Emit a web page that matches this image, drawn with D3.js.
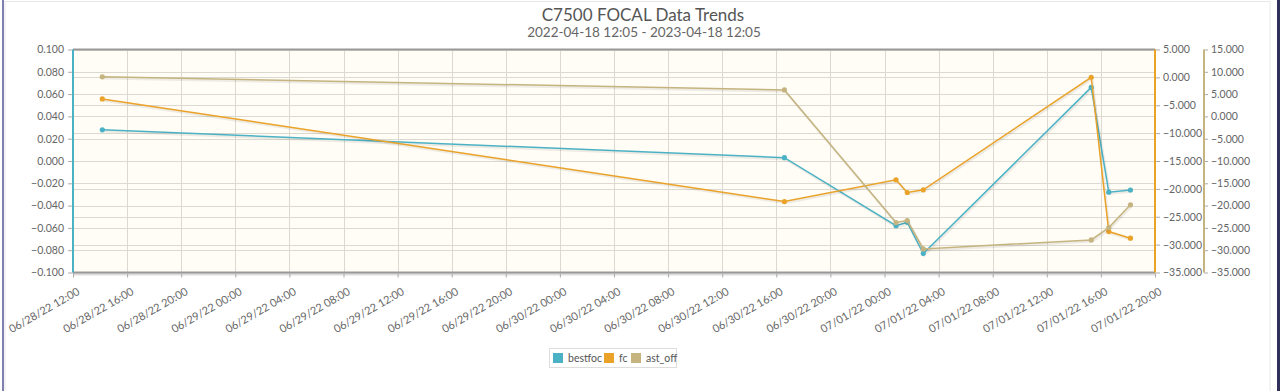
<!DOCTYPE html>
<html>
<head>
<meta charset="utf-8">
<script src="https://cdn.jsdelivr.net/npm/d3@7"></script>
<style>
  body { margin: 0; background: #fff; }
  #graph { width: 1280px; height: 391px; }
</style>
</head>
<body>
<div id="graph"></div>
<script>
// values
var times = ["2022-06-28 14:10", "2022-06-30 16:36", "2022-07-01 00:51", "2022-07-01 01:41",
             "2022-07-01 02:52", "2022-07-01 15:17", "2022-07-01 16:35", "2022-07-01 18:11"];
var bestfoc = [0.028, 0.003, -0.058, -0.055, -0.083, 0.066, -0.028, -0.026];
var fc = [-3.86, -22.27, -18.37, -20.65, -20.17, 0.02, -27.66, -28.85];
var astOff = [8.87, 5.94, -23.8, -23.36, -29.72, -27.7, -24.93, -19.83];
var seriesNames = ["bestfoc", "fc", "ast_off"];
var seriesColors = ["#4bb2c5", "#eaa228", "#c5b47f"];
var leftTicks = [-0.1, -0.08, -0.06, -0.04, -0.02, 0, 0.02, 0.04, 0.06, 0.08, 0.1];
var fcTicks = [-35, -30, -25, -20, -15, -10, -5, 0, 5];
var astTicks = [-35, -30, -25, -20, -15, -10, -5, 0, 5, 10, 15];

var width = 1280;
var height = 391;
var pLeft = 73, pRight = 1155, pTop = 49.5, pBottom = 272.5;
var font = "Lato";

var parseTime = d3.timeParse("%Y-%m-%d %H:%M");
var dates = times.map(parseTime);

var svg = d3.select("#graph").
append("svg").
attr("width", width).
attr("height", height);

// page frame
svg.append("rect").attr("x", 5).attr("y", 1.5).attr("width", 1265).attr("height", 400).
style("fill", "none").style("stroke", "#e8e8e8");
svg.append("rect").attr("x", 2).attr("y", 0).attr("width", 2).attr("height", height).style("fill", "#8080b0");
svg.append("rect").attr("x", 1277).attr("y", 0).attr("width", 3).attr("height", height).style("fill", "#30305a");

var xScale = d3.scaleTime().
domain([parseTime("2022-06-28 12:00"), parseTime("2022-07-01 20:00")]).
range([pLeft, pRight]);

var yLeft = d3.scaleLinear().domain([-0.1, 0.1]).range([pBottom, pTop]);
var yFc = d3.scaleLinear().domain([-35, 5]).range([pBottom, pTop]);
var yAst = d3.scaleLinear().domain([-35, 15]).range([pBottom, pTop]);

var xTicks = d3.timeHour.every(4).range(xScale.domain()[0], d3.timeMinute.offset(xScale.domain()[1], 1));

// plot background
svg.append("rect").
attr("x", pLeft).attr("y", pTop).
attr("width", pRight - pLeft).attr("height", pBottom - pTop).
style("fill", "#fffdf6");

// grid lines
var grid = svg.append("g").style("stroke", "#dcd9d0").style("stroke-width", 1);
grid.selectAll(".vgrid").data(xTicks).enter().append("line").
attr("x1", function (d) {return Math.round(xScale(d)) + 0.5;}).
attr("x2", function (d) {return Math.round(xScale(d)) + 0.5;}).
attr("y1", pTop).attr("y2", pBottom);
grid.selectAll(".hgrid").data(leftTicks).enter().append("line").
attr("x1", pLeft).attr("x2", pRight).
attr("y1", function (d) {return Math.round(yLeft(d)) + 0.5;}).
attr("y2", function (d) {return Math.round(yLeft(d)) + 0.5;});
grid.selectAll(".hgrid2").data(fcTicks).enter().append("line").
attr("x1", pLeft).attr("x2", pRight).
attr("y1", function (d) {return Math.round(yFc(d)) + 0.5;}).
attr("y2", function (d) {return Math.round(yFc(d)) + 0.5;});

// border top / bottom
svg.append("line").attr("x1", pLeft).attr("x2", pRight).attr("y1", pTop).attr("y2", pTop).
style("stroke", "#999").style("stroke-width", 2);
svg.append("line").attr("x1", pLeft).attr("x2", pRight).attr("y1", pBottom + 2).attr("y2", pBottom + 2).
style("stroke", "#ddd").style("stroke-width", 2);
svg.append("line").attr("x1", pLeft).attr("x2", pRight).attr("y1", pBottom).attr("y2", pBottom).
style("stroke", "#999").style("stroke-width", 2);

var fmt = d3.format(".3f");

function styleAxis(g) {
  g.selectAll(".domain").remove();
  g.selectAll(".tick line").style("stroke", "#aaa");
  g.selectAll("text").style("font-family", font).style("font-size", "10.5px").style("fill", "#666");
}

// x axis
var xAxis = svg.append("g").
attr("transform", "translate(0," + (pBottom + 1) + ")").
call(d3.axisBottom(xScale).tickValues(xTicks).tickFormat(d3.timeFormat("%m/%d/%y %H:%M")).tickSize(4).tickSizeOuter(0));
styleAxis(xAxis);
xAxis.selectAll("text").
style("font-size", "11px").
style("text-anchor", "end").
attr("x", -4).
attr("y", 21).
attr("dy", 0).
attr("transform", "rotate(-30)");

// left axis
var yAxis = svg.append("g").
attr("transform", "translate(" + pLeft + ",0)").
call(d3.axisLeft(yLeft).tickValues(leftTicks).tickFormat(fmt).tickSize(5).tickPadding(4));
styleAxis(yAxis);
svg.append("line").attr("x1", pLeft).attr("x2", pLeft).attr("y1", pTop).attr("y2", pBottom).
style("stroke", seriesColors[0]).style("stroke-width", 2);

// fc axis
var fcAxis = svg.append("g").
attr("transform", "translate(" + pRight + ",0)").
call(d3.axisRight(yFc).tickValues(fcTicks).tickFormat(fmt).tickSize(5).tickPadding(3));
styleAxis(fcAxis);
svg.append("line").attr("x1", pRight).attr("x2", pRight).attr("y1", pTop).attr("y2", pBottom).
style("stroke", seriesColors[1]).style("stroke-width", 2);

// ast_off axis
var astX = 1204;
var astAxis = svg.append("g").
attr("transform", "translate(" + astX + ",0)").
call(d3.axisRight(yAst).tickValues(astTicks).tickFormat(fmt).tickSize(4).tickPadding(3));
styleAxis(astAxis);
svg.append("line").attr("x1", astX).attr("x2", astX).attr("y1", pTop).attr("y2", pBottom).
style("stroke", seriesColors[2]).style("stroke-width", 2);

// series
var series = [
  {name: seriesNames[0], values: bestfoc, y: yLeft, color: seriesColors[0]},
  {name: seriesNames[1], values: fc, y: yFc, color: seriesColors[1]},
  {name: seriesNames[2], values: astOff, y: yAst, color: seriesColors[2]}];

series.forEach(function (s) {
  var pts = dates.map(function (d, i) {return [xScale(d), s.y(s.values[i])];});
  var line = d3.line();
  svg.append("path").datum(pts).attr("d", line).
  attr("transform", "translate(1,1.5)").
  style("fill", "none").style("stroke", "#000").style("stroke-opacity", 0.07).style("stroke-width", 2.5);
  svg.append("path").datum(pts).attr("d", line).
  style("fill", "none").style("stroke", s.color).style("stroke-width", 1.5);
  svg.selectAll(null).data(pts).enter().append("circle").
  attr("cx", function (p) {return p[0];}).
  attr("cy", function (p) {return p[1];}).
  attr("r", 2.6).
  style("fill", s.color);
});

// titles
svg.append("text").
text("C7500 FOCAL Data Trends").
attr("x", 643).attr("y", 21).
style("text-anchor", "middle").
style("font-family", font).
style("font-size", "17px").
style("fill", "#555");

svg.append("text").
text("2022-04-18 12:05 - 2023-04-18 12:05").
attr("x", 644).attr("y", 37).
style("text-anchor", "middle").
style("font-family", font).
style("font-size", "13.5px").
style("fill", "#666");

// legend
var legend = svg.append("g").attr("id", "legend");
legend.append("rect").
attr("x", 549.5).attr("y", 348.5).attr("width", 127).attr("height", 19).
style("fill", "#fff").style("stroke", "#ddd");
var legendX = [553, 604, 631];
series.forEach(function (s, i) {
  legend.append("rect").
  attr("x", legendX[i]).attr("y", 353).attr("width", 10).attr("height", 10).
  style("fill", s.color);
  legend.append("text").
  text(s.name).
  attr("x", legendX[i] + 15).attr("y", 362).
  style("font-family", font).
  style("font-size", "10.5px").
  style("fill", "#555");
});
</script>
</body>
</html>
